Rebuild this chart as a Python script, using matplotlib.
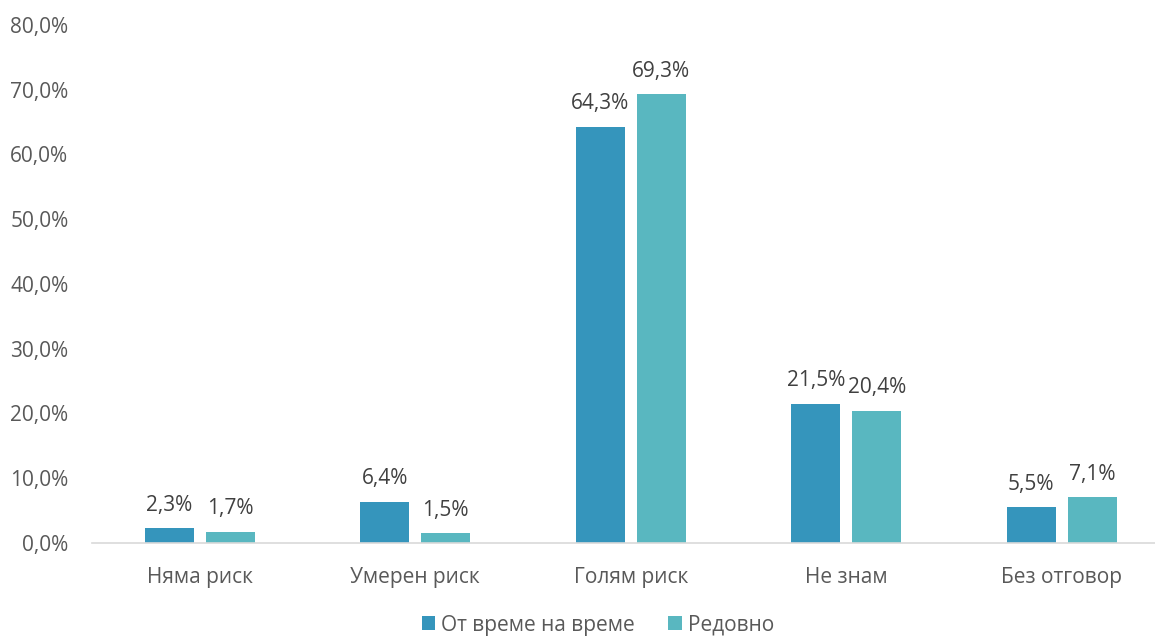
import matplotlib.pyplot as plt
import numpy as np

categories = ["Няма риск", "Умерен риск", "Голям риск", "Не знам", "Без отговор"]
series_names = ["От време на време", "Редовно"]
occasional = [2.3, 6.4, 64.3, 21.5, 5.5]
regular = [1.7, 1.5, 69.3, 20.4, 7.1]
yticks = [0, 10, 20, 30, 40, 50, 60, 70, 80]

colors = ["#3595BC", "#59B7C0"]

plt.rcParams['font.family'] = ['Open Sans', 'DejaVu Sans']

W, H = 1155, 637
fig = plt.figure(figsize=(W / 100, H / 100), dpi=100)
left, right = 92, 1155
bottom, top = 543, 25
ax = fig.add_axes([left / W, 1 - bottom / H, (right - left) / W, (bottom - top) / H])

x = np.arange(len(categories))
bw = 0.227
off = 0.1415
b1 = ax.bar(x - off, occasional, bw, color=colors[0], label=series_names[0])
b2 = ax.bar(x + off, regular, bw, color=colors[1], label=series_names[1])

for bars, vals in ((b1, occasional), (b2, regular)):
    for b, v in zip(bars, vals):
        ax.annotate(f"{v:.1f}%".replace(".", ","), (b.get_x() + b.get_width() / 2, v),
                    xytext=(0, 9), textcoords="offset points", ha="center", va="bottom",
                    fontsize=15, color="#404040")

ax.set_ylim(0, 80)
ax.set_xlim(-0.5, (right - left) / 215.5 - 0.5)
ax.set_yticks(yticks)
ax.set_yticklabels([f"{t:.1f}%".replace(".", ",") for t in yticks], fontsize=15, color="#595959")
ax.set_xticks(x)
ax.set_xticklabels(categories, fontsize=15, color="#595959")
ax.tick_params(axis="both", length=0)
ax.tick_params(axis="x", pad=17)
ax.tick_params(axis="y", pad=17)
for s in ("top", "right", "left"):
    ax.spines[s].set_visible(False)
ax.spines["bottom"].set_color("#D9D9D9")
ax.spines["bottom"].set_linewidth(1.2)

fig.legend(handles=[b1, b2], labels=series_names, loc="center", bbox_to_anchor=(598 / W, 1 - 625 / H),
           ncol=2, frameon=False, fontsize=15, labelcolor="#595959", handlelength=0.65,
           handleheight=0.65, handletextpad=0.3, columnspacing=1.6)

fig.savefig("out.png", dpi=100)
